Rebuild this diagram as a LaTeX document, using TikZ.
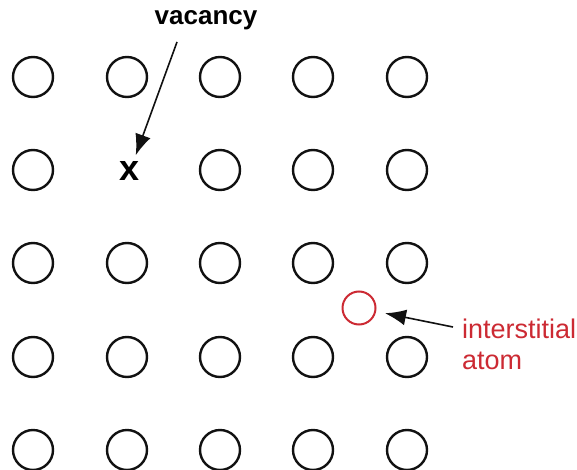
\documentclass[tikz,border=0pt]{standalone}
\usepackage{fontspec}
\setmainfont{Liberation Sans}
\usepackage{tikz}
\usetikzlibrary{positioning}
\usetikzlibrary{calc,arrows.meta}
\definecolor{lat-red}{HTML}{CC2A33}
\definecolor{lat-text}{HTML}{111111}
\tikzset{site/.style={draw=lat-text, circle, line width=2.4pt, minimum size=40pt, inner sep=0pt}}

\begin{document}
\begin{tikzpicture}[
    x=1pt, y=-1pt,                 % Pixel-like grid, y grows downward
    >={Latex[length=21pt,width=16pt]},
    font=\fontsize{27}{31}\selectfont
  ]
  \useasboundingbox (0,0) rectangle (577,470);

  % Local Style Definitions
  \tikzset{
    extra/.style={draw=lat-red, circle, line width=2pt, minimum size=33pt, inner sep=0pt},
    label/.style={inner sep=0pt, align=left},
    pointer/.style={->, draw=lat-text, line width=1.6pt}
  }

  % Regular lattice, one site left empty
  \foreach \r/\y in {1/77,2/170,3/263,4/357,5/450} {
    \foreach \c/\x in {1/33,2/127,3/220,4/313,5/407} {
      \ifnum\r\c=22 \else
        \node (site-\r-\c) [site] at (\x,\y) {};
      \fi
    }
  }

  % Empty site marker
  \node (vac-mark) [inner sep=6pt, font=\fontsize{36}{36}\selectfont\bfseries] at (130,171) {x};

  % Vacancy label
  \node (vac-label) [label, font=\fontsize{26}{31}\selectfont\bfseries] at (206,20) {vacancy};
  \coordinate (vac-tail) at (177,42);

  % Extra atom between the sites
  \node (inter) [extra] at (359,308) {};

  % Interstitial label
  \node (inter-label) [label, text=lat-red, anchor=west] at (462,344) {interstitial\\atom};
  \coordinate (inter-tail) at (453,327);

  % Pointers
  \draw[pointer] (vac-tail) -- (vac-mark);
  \draw[pointer, shorten >=9pt] (inter-tail) -- (inter);

\end{tikzpicture}
\end{document}
